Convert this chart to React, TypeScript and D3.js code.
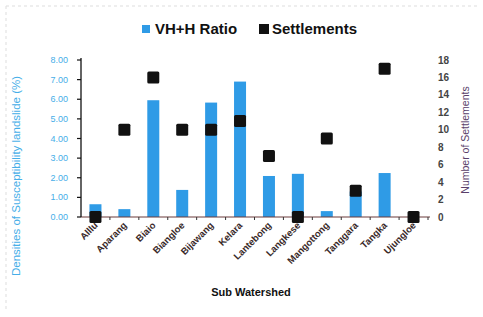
import React from 'react';
import * as d3 from 'd3';

const categories = ['Alllu', 'Aparang', 'Biaio', 'Biangloe', 'Bijawang', 'Kelara', 'Lantebong', 'Langkese', 'Mangottong', 'Tanggara', 'Tangka', 'Ujungloe'];
const ratioValues = [0.65, 0.4, 5.95, 1.38, 5.83, 6.9, 2.09, 2.2, 0.3, 1.3, 2.24, 0];
const settlementValues = [0, 10, 16, 10, 10, 11, 7, 0, 9, 3, 17, 0];
const leftTicks = [0, 1, 2, 3, 4, 5, 6, 7, 8];
const rightTicks = [0, 2, 4, 6, 8, 10, 12, 14, 16, 18];

const W = 483;
const H = 317;
const BLUE = '#2f9be6';
const AXIS_BLUE = '#46aee8';

export default function App() {
  const x = d3.scaleBand<string>().domain(categories).range([81, 428]).padding(0);
  const yL = d3.scaleLinear().domain([0, 8]).range([217, 60]);
  const yR = d3.scaleLinear().domain([0, 18]).range([217, 60]);
  const barW = 12;
  const mk = 12;
  const fmt = d3.format('.2f');

  return (
    <svg width={W} height={H} style={{ position: 'absolute', left: 0, top: 0, background: '#fff' }}
      fontFamily="'Liberation Sans', Arial, sans-serif">
      {/* faint frame */}
      <line x1={6} x2={6} y1={6} y2={H - 6} stroke="#ddd" strokeDasharray="3,3" />
      <line x1={6} x2={W - 6} y1={6} y2={6} stroke="#ddd" strokeDasharray="3,3" />

      {/* legend */}
      <g fontWeight="bold" fontSize={15} fill="#111">
        <rect x={142} y={25} width={8} height={8} fill={BLUE} />
        <text x={155} y={34}>VH+H Ratio</text>
        <rect x={259} y={24} width={10} height={10} fill="#111" />
        <text x={272} y={34}>Settlements</text>
      </g>

      {/* bars */}
      {categories.map((c, i) => (
        <rect key={c} x={(x(c) ?? 0) + x.bandwidth() / 2 - barW / 2} y={yL(ratioValues[i])}
          width={barW} height={yL(0) - yL(ratioValues[i])} fill={BLUE} />
      ))}

      {/* x axis */}
      <line x1={81} x2={430} y1={217} y2={217} stroke="#6b3a3a" strokeWidth={1.2} />
      {categories.map((c) => (
        <line key={c} x1={(x(c) ?? 0) + x.bandwidth()} x2={(x(c) ?? 0) + x.bandwidth()} y1={217} y2={220} stroke="#333" />
      ))}

      {/* settlement markers */}
      {categories.map((c, i) => (
        <rect key={c} x={(x(c) ?? 0) + x.bandwidth() / 2 - mk / 2} y={yR(settlementValues[i]) - mk / 2}
          width={mk} height={mk} fill="#111" rx={1.5} />
      ))}

      {/* left axis */}
      <line x1={81} x2={81} y1={58} y2={217} stroke="#111" strokeWidth={1.3} />
      {leftTicks.map((t) => (
        <g key={t}>
          <line x1={77} x2={81} y1={yL(t)} y2={yL(t)} stroke="#111" strokeWidth={1.2} />
          <text x={68} y={yL(t) + 3} textAnchor="end" fontSize={9} fill={AXIS_BLUE}>{fmt(t)}</text>
        </g>
      ))}
      <text transform={`translate(20, 176) rotate(-90)`} textAnchor="middle" fontSize={11.5} fill={AXIS_BLUE}>
        Densities of Susceptibility landslide (%)
      </text>

      {/* right axis labels */}
      {rightTicks.map((t) => (
        <text key={t} x={438} y={yR(t) + 3.5} fontSize={10} fontWeight="bold" fill="#444">{t}</text>
      ))}
      <text transform={`translate(469, 140) rotate(-90)`} textAnchor="middle" fontSize={10.5} fill="#5a3f6a">
        Number of Settlements
      </text>

      {/* x labels */}
      {categories.map((c) => (
        <text key={c} transform={`translate(${(x(c) ?? 0) + x.bandwidth() / 2 + 3}, 226) rotate(-45)`}
          textAnchor="end" fontSize={9.5} fontWeight="bold" fill="#3a2a2a">{c}</text>
      ))}
      <text x={251} y={296} textAnchor="middle" fontSize={11} fontWeight="bold" fill="#111">Sub Watershed</text>
    </svg>
  );
}
